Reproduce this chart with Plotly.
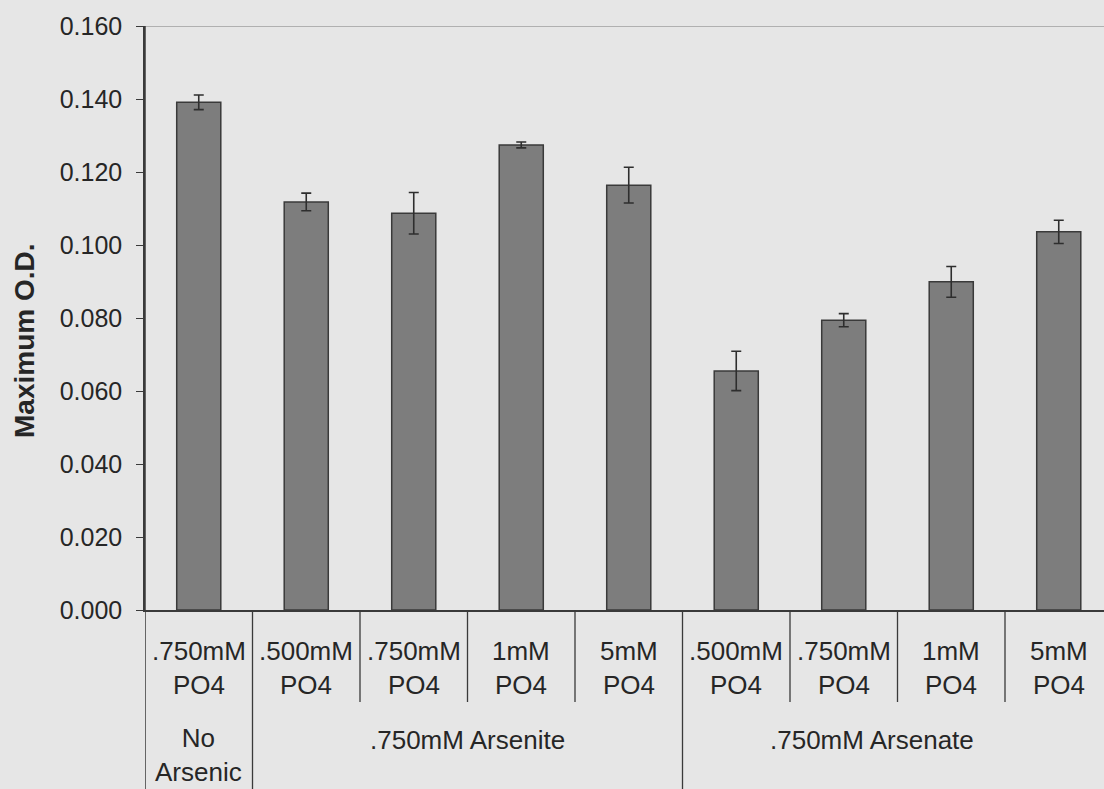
import plotly.graph_objects as go

# Phosphate condition for each bar, arsenic treatment groups, and measured values
phosphate_labels = [".750mM<br>PO4", ".500mM<br>PO4", ".750mM<br>PO4", "1mM<br>PO4", "5mM<br>PO4",
                    ".500mM<br>PO4", ".750mM<br>PO4", "1mM<br>PO4", "5mM<br>PO4"]
group_labels = ["No<br>Arsenic", ".750mM Arsenite", ".750mM Arsenate"]
group_label_x = [0, 2.5, 6.26]
group_bounds = [0.5, 4.5]
max_od = [0.1391, 0.1118, 0.1087, 0.1274, 0.1164, 0.0655, 0.0794, 0.0899, 0.1036]
max_od_err = [0.0020, 0.0024, 0.0057, 0.0008, 0.0049, 0.0054, 0.0018, 0.0042, 0.0032]
y_ticks = [0.0, 0.02, 0.04, 0.06, 0.08, 0.10, 0.12, 0.14, 0.16]

FONT = "Liberation Sans, Arial, sans-serif"
INK = "#262626"
BG = "#e6e6e6"

W, H = 1104, 789
ML, MT, MB = 145, 26, 179
plot_h = H - MT - MB

def py(pixel_y):
    """Convert a page y pixel into paper coordinates."""
    return (H - MB - pixel_y) / plot_h

x = list(range(len(max_od)))

fig = go.Figure(go.Bar(
    x=x, y=max_od, width=0.41,
    marker=dict(color="#7d7d7d", line=dict(color="#3a3a3a", width=1.5)),
    error_y=dict(type="data", array=max_od_err, visible=True,
                 color="#2e2e2e", thickness=1.6, width=5),
))

shapes = []
# top border line at the axis maximum
shapes.append(dict(type="line", xref="paper", yref="y", x0=0, x1=1, y0=0.16, y1=0.16,
                   line=dict(color="#7a7a7a", width=1)))
# left axis line running through the category label rows
shapes.append(dict(type="line", xref="x", yref="paper", x0=-0.5, x1=-0.5, y0=1, y1=py(H),
                   line=dict(color="#3a3a3a", width=1.5)))
# short dividers between phosphate labels
for i in range(len(max_od) - 1):
    b = i + 0.5
    bottom = py(H) if b in group_bounds else py(702)
    shapes.append(dict(type="line", xref="x", yref="paper", x0=b, x1=b, y0=0, y1=bottom,
                       line=dict(color="#3a3a3a", width=1.3)))

annotations = []
for i, lab in enumerate(phosphate_labels):
    annotations.append(dict(x=i, y=py(668), xref="x", yref="paper", text=lab, showarrow=False,
                            xanchor="center", yanchor="middle",
                            font=dict(family=FONT, size=26, color=INK)))
for gx, lab in zip(group_label_x, group_labels):
    yc = py(755) if "<br>" in lab else py(740)
    annotations.append(dict(x=gx, y=yc, xref="x", yref="paper", text=lab, showarrow=False,
                            xanchor="center", yanchor="middle",
                            font=dict(family=FONT, size=26, color=INK)))
annotations.append(dict(x=(24 - ML) / (W - ML), y=py(341), xref="paper", yref="paper",
                        text="<b>Maximum O.D.</b>", textangle=-90, showarrow=False,
                        xanchor="center", yanchor="middle",
                        font=dict(family=FONT, size=28, color=INK)))

fig.update_layout(
    width=W, height=H,
    margin=dict(l=ML, r=0, t=MT, b=MB, pad=0),
    paper_bgcolor=BG, plot_bgcolor=BG,
    showlegend=False,
    shapes=shapes, annotations=annotations,
    xaxis=dict(range=[-0.5, -0.5 + (W - ML) / 107.5], showticklabels=False, ticks="",
               showgrid=False, zeroline=False, showline=True, linecolor="#3a3a3a", linewidth=1.5,
               fixedrange=True),
    yaxis=dict(range=[0, 0.16], tickvals=y_ticks, tickformat=".3f", ticks="outside",
               ticklen=7, tickcolor="#3a3a3a", tickwidth=1.3, ticklabelstandoff=9,
               showgrid=False, zeroline=False, showline=True, linecolor="#3a3a3a", linewidth=1.5,
               tickfont=dict(family=FONT, size=25, color=INK), fixedrange=True),
)

fig.write_html("out.html")
